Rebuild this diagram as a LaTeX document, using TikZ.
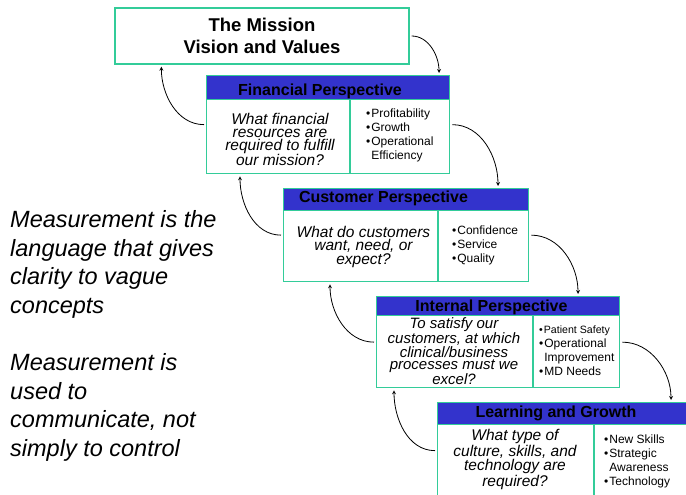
\documentclass[tikz,border=0pt]{standalone}
\usepackage{fontspec}
\setmainfont{Liberation Sans}
\usetikzlibrary{calc}
\definecolor{bsteal}{HTML}{33CC99}
\definecolor{bsblue}{HTML}{3333CC}

\begin{document}
\begin{tikzpicture}[x=1pt, y=1pt, >=stealth,
    cardbox/.style={draw=bsteal, line width=1.3pt, fill=white, inner sep=0pt, anchor=north west},
    cardhead/.style={draw=bsteal, line width=1.3pt, fill=bsblue, inner sep=0pt, anchor=north west},
    cardtitle/.style={font=\fontsize{16}{18}\selectfont\bfseries, inner sep=0pt, anchor=base},
    askline/.style={font=\fontsize{15.5}{13}\selectfont\itshape, align=center, inner sep=0pt},
    pointlist/.style={font=\fontsize{12}{14}\selectfont, align=left, inner sep=0pt, anchor=north west},
    sidenote/.style={font=\fontsize{23.5}{28.7}\selectfont\itshape, align=left, inner sep=0pt, anchor=north west},
    cyclearrow/.style={->, line width=0.8pt, shorten <=2pt, shorten >=2pt}]
        \useasboundingbox (0,0) rectangle (686,495);
        \clip (0,0) rectangle (686,495);
        % mission box
        \node[draw=bsteal, line width=1.3pt, minimum width=294pt, minimum height=56pt, align=center,
          font=\fontsize{18.5}{21.7}\selectfont\bfseries]
          (mission) at (262,459) {The Mission\\Vision and Values};
        % financial
        \node[cardbox, minimum width=243pt, minimum height=98pt] (fin) at (206,420) {};
        \node[cardhead, minimum width=243pt, minimum height=24pt] (finhead) at (206,420) {};
        \draw[bsteal, line width=1.3pt] (350,396) -- (350,322);
        \node[cardtitle] (fintitle) at (320,399) {Financial Perspective};
        \node[askline] (finask) at (280,355.6) {What financial\\resources are\\required to fulfill\\our mission?};
        \node[pointlist] (finlist) at (366,386.8)
          {\textbullet\kern1pt Profitability\\\textbullet\kern1pt Growth\\\textbullet\kern1pt Operational\\\hphantom{\textbullet\kern1pt}Efficiency};
        % customer
        \node[cardbox, minimum width=245pt, minimum height=93pt] (cus) at (283,307) {};
        \node[cardhead, minimum width=245pt, minimum height=22pt] (cushead) at (283,307) {};
        \draw[bsteal, line width=1.3pt] (438,285) -- (438,214);
        \node[cardtitle] (custitle) at (383.5,292) {Customer Perspective};
        \node[askline, font=\fontsize{15.5}{13.5}\selectfont\itshape] (cusask) at (363.5,248.5)
          {What do customers\\want, need, or\\expect?};
        \node[pointlist] (cuslist) at (452,269.8)
          {\textbullet\kern1pt Confidence\\\textbullet\kern1pt Service\\\textbullet\kern1pt Quality};
        % internal
        \node[cardbox, minimum width=243pt, minimum height=91pt] (int) at (376,199) {};
        \node[cardhead, minimum width=243pt, minimum height=19pt] (inthead) at (376,199) {};
        \draw[bsteal, line width=1.3pt] (533,180) -- (533,108);
        \node[cardtitle] (inttitle) at (491.5,183) {Internal Perspective};
        \node[askline, font=\fontsize{15}{12}\selectfont\itshape] (intask) at (454,143.5)
          {To satisfy our\\customers, at which\\clinical/business\\processes must we\\excel?};
        \node[pointlist] (intlist) at (539,169.8)
          {{\fontsize{10.6}{14}\selectfont\textbullet\kern1pt Patient Safety}\\\textbullet\kern1pt Operational\\\hphantom{\textbullet\kern1pt}Improvement\\\textbullet\kern1pt MD Needs};
        % learning
        \node[cardbox, minimum width=255pt, minimum height=96pt] (learn) at (437,93) {};
        \node[cardhead, minimum width=255pt, minimum height=22pt] (learnhead) at (437,93) {};
        \draw[bsteal, line width=1.3pt] (594,71) -- (594,-3);
        \node[cardtitle] (learntitle) at (556,77) {Learning and Growth};
        \node[askline] (learnask) at (515,35.5)
          {What type of\\culture, skills, and\\technology are\\required?};
        \node[pointlist] (learnlist) at (604,60.8)
          {\textbullet\kern1pt New Skills\\\textbullet\kern1pt Strategic\\\hphantom{\textbullet\kern1pt}Awareness\\\textbullet\kern1pt Technology};
        % side notes
        \node[sidenote] (noteA) at (10,284.8) {Measurement is the\\language that gives\\clarity to vague\\concepts};
        \node[sidenote] (noteB) at (10,141.8) {Measurement is\\used to\\communicate, not\\simply to control};
        % downward arrows
        \draw[cyclearrow] (mission.east) to[out=0, in=90] ($(fin.north west)+(233,0)$);
        \draw[cyclearrow] (fin.east) to[out=0, in=90] ($(cus.north west)+(215,0)$);
        \draw[cyclearrow] (cus.east) to[out=0, in=90] ($(int.north west)+(202,0)$);
        \draw[cyclearrow] (int.east) to[out=0, in=90] ($(learn.north west)+(234,0)$);
        % upward arrows
        \draw[cyclearrow] (fin.west) to[out=180, in=-90] ($(mission.south west)+(47,0)$);
        \draw[cyclearrow] (cus.west) to[out=180, in=-90] ($(fin.south west)+(34,0)$);
        \draw[cyclearrow] (int.west) to[out=180, in=-90] ($(cus.south west)+(47,0)$);
        \draw[cyclearrow] (learn.west) to[out=180, in=-90] ($(int.south west)+(18,0)$);
      \end{tikzpicture}
\end{document}
